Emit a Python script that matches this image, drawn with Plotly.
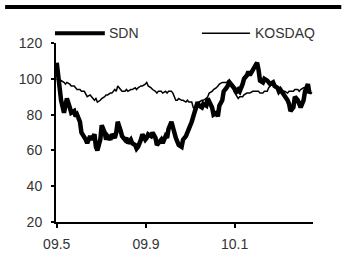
import pandas as pd
import plotly.graph_objects as go

sdn = [109, 96, 88, 81, 84, 89, 84, 81, 82, 79,
       80, 76, 70, 68, 66, 64, 68, 66, 69, 62,
       60, 66, 74, 70, 66, 68, 66, 69, 67, 70,
       76, 71, 68, 66, 67, 64, 66, 64, 63, 61,
       62, 66, 69, 66, 67, 69, 68, 70, 67, 63,
       64, 66, 64, 68, 67, 72, 76, 72, 67, 65,
       63, 62, 66, 68, 71, 72, 76, 79, 84, 87,
       85, 84, 86, 85, 89, 87, 84, 80, 81, 79,
       85, 88, 93, 95, 97, 98, 96, 95, 93, 94,
       93, 97, 100, 102, 104, 102, 105, 106, 109, 105,
       99, 98, 100, 99, 98, 97, 98, 96, 95, 93,
       94, 92, 90, 88, 86, 82, 84, 90, 88, 86,
       84, 88, 93, 97, 92, 93]

kosdaq = [100, 98, 99, 98, 97, 98, 97, 96, 96, 95,
          94, 94, 93, 93, 91, 90, 91, 90, 88, 89,
          87, 88, 89, 90, 91, 91, 92, 92, 94, 93,
          96, 94, 93, 93, 94, 93, 94, 94, 95, 94,
          95, 96, 96, 97, 98, 96, 95, 94, 93, 92,
          93, 93, 92, 93, 92, 93, 93, 92, 88, 88,
          89, 88, 88, 87, 88, 87, 87, 84, 82, 84,
          87, 88, 88, 89, 90, 92, 93, 94, 95, 96,
          97, 98, 98, 98, 99, 98, 96, 93, 90, 89,
          90, 90, 91, 92, 92, 92, 93, 93, 93, 93,
          92, 92, 93, 93, 95, 96, 97, 96, 95, 94,
          94, 93, 93, 92, 93, 93, 93, 94, 94, 93,
          94, 95, 95, 96, 94, 93]

dates = pd.bdate_range("2009-05-01", periods=len(sdn), freq="2B")

tick_vals = ["2009-05-01", "2009-09-01", "2010-01-01"]
tick_text = ["09.5", "09.9", "10.1"]
y_ticks = [20, 40, 60, 80, 100, 120]

font = dict(family="Liberation Sans, Arial, sans-serif", size=14, color="#333333")

fig = go.Figure()
fig.add_trace(go.Scatter(x=dates, y=kosdaq, mode="lines", name="KOSDAQ",
                         line=dict(color="black", width=1.5), showlegend=False))
fig.add_trace(go.Scatter(x=dates, y=sdn, mode="lines", name="SDN",
                         line=dict(color="black", width=4.5), showlegend=False))

# header rule
fig.add_shape(type="line", xref="paper", yref="paper", x0=-0.198, x1=1.11,
              y0=1.2017, y1=1.2017, line=dict(color="black", width=4))
# legend
fig.add_shape(type="line", xref="paper", yref="paper", x0=-0.004, x1=0.19,
              y0=1.055, y1=1.055, line=dict(color="black", width=4))
fig.add_annotation(text="SDN", xref="paper", yref="paper", x=0.197, y=1.055,
                   xanchor="left", yanchor="middle", showarrow=False, font=font)
fig.add_shape(type="line", xref="paper", yref="paper", x0=0.568, x1=0.755,
              y0=1.055, y1=1.055, line=dict(color="black", width=1.5))
fig.add_annotation(text="KOSDAQ", xref="paper", yref="paper", x=0.768, y=1.055,
                   xanchor="left", yanchor="middle", showarrow=False, font=font)

fig.update_layout(
    width=346, height=264,
    margin=dict(l=56, r=33, t=43, b=40),
    paper_bgcolor="white", plot_bgcolor="white",
    font=font, showlegend=False,
)
fig.update_xaxes(type="date", range=["2009-04-30", "2010-04-19"],
                 tickvals=tick_vals, ticktext=tick_text,
                 showgrid=False, zeroline=False,
                 showline=True, linecolor="black", linewidth=2,
                 ticks="outside", ticklen=4, tickwidth=1.5, tickcolor="black",
                 ticklabelstandoff=4)
fig.update_yaxes(range=[20, 120], tickvals=y_ticks,
                 showgrid=False, zeroline=False,
                 showline=True, linecolor="black", linewidth=2,
                 ticks="outside", ticklen=3, tickwidth=1.5, tickcolor="black",
                 ticklabelstandoff=6)

fig.write_html("out.html", config={"displayModeBar": False},
               post_script="document.body.style.margin='0';")
